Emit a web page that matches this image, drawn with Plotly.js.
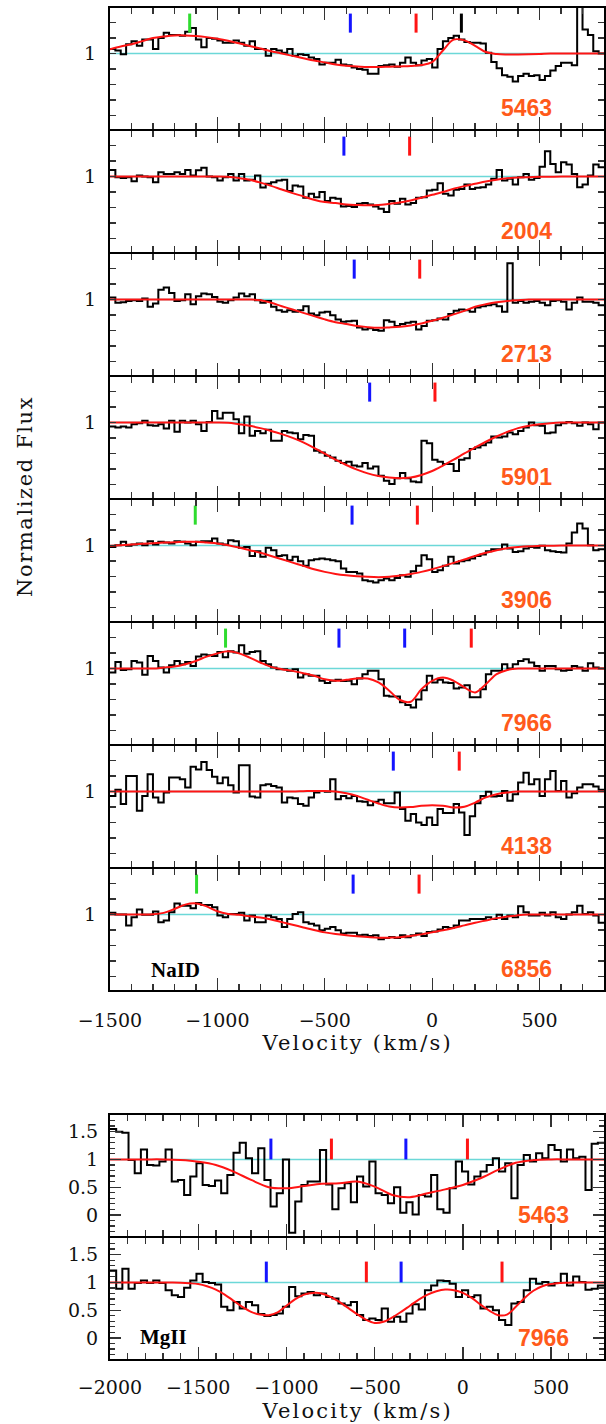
<!DOCTYPE html>
<html><head><meta charset="utf-8">
<script src="https://cdn.plot.ly/plotly-3.0.1.min.js"></script>
<style>
html,body{margin:0;padding:0;background:#fff}
#chart text[data-unformatted="Velocity (km/s)"]{letter-spacing:2.2px}
#chart text[data-unformatted="Normalized Flux"]{letter-spacing:1.6px}
#chart .xtick text{letter-spacing:1px}
</style>
</head><body><div id="chart" style="width:606px;height:1424px"></div>
<script>
// ---------------- DATA ----------------
// NaID spectra: flux in 25 km/s bins starting at -1500 km/s
const naVelStart = -1500, naBinWidth = 25;
const naNames = ['5463','2004','2713','5901','3906','7966','4138','6856'];

const flux5463 = [1.03,1.02,0.995,1.06,1.08,1.05,1.09,1.09,1.03,1.10, 1.135,1.12,1.12,1.115,1.14,1.165,1.09,1.04,1.10,1.095, 1.085,1.07,1.07,1.085,1.07,1.05,1.08,1.03,1.03,0.985, 1.03,1.02,1.005,1.03,0.985,0.995,0.99,0.975,0.965,0.93, 0.94,0.94,0.96,0.93,0.925,0.91,0.90,0.895,0.87,0.87, 0.92,0.925,0.93,0.915,0.94,0.975,0.94,0.925,0.955,0.965, 0.91,1.03,1.08,1.10,1.115,1.09,1.075,1.07,1.07,1.065, 1.005,0.945,0.905,0.86,0.85,0.82,0.855,0.87,0.855,0.86, 0.83,0.855,0.89,0.92,0.94,0.94,0.925,1.4,1.155,1.12, 1.015,1.0];
const flux2004 = [1.043,0.996,0.99,0.996,0.97,1.006,1.0,0.996,0.964,1.028, 1.017,1.017,1.028,1.017,1.043,1.006,1.04,1.056,1.0,0.996, 0.974,0.996,1.017,0.974,1.017,0.974,0.98,1.006,0.93,0.953, 0.964,0.974,0.98,0.906,0.942,0.936,0.863,0.889,0.867,0.9, 0.842,0.863,0.857,0.807,0.81,0.803,0.824,0.829,0.82,0.807, 0.792,0.771,0.842,0.824,0.857,0.82,0.829,0.863,0.867,0.91, 0.914,0.957,0.889,0.878,0.914,0.92,0.949,0.92,0.927,0.931, 0.949,0.985,1.043,0.974,0.985,0.949,0.996,1.017,0.98,0.99, 1.064,1.163,1.081,1.028,1.092,1.077,1.017,0.931,0.949,1.006, 1.077,1.06];
const flux2713 = [1.013,0.979,0.983,0.991,0.996,0.991,1.006,0.953,0.974,1.064, 1.077,1.043,0.991,0.996,1.034,0.97,1.021,1.039,1.034,1.017, 0.985,0.979,0.996,1.013,1.039,1.021,1.034,0.996,0.979,0.991, 0.953,0.931,0.921,0.931,0.921,0.931,0.957,0.91,0.899,0.916, 0.921,0.899,0.872,0.857,0.86,0.863,0.82,0.807,0.814,0.803, 0.799,0.867,0.857,0.829,0.842,0.85,0.857,0.807,0.829,0.863, 0.867,0.878,0.872,0.906,0.927,0.936,0.931,0.921,0.949,0.957, 0.964,0.97,0.957,0.921,1.235,0.979,0.991,0.979,0.985,0.991, 0.979,0.964,0.991,0.996,0.985,0.936,0.979,1.013,0.985,0.985, 0.979,0.964];
const flux5901 = [0.974,0.968,0.974,0.968,0.989,0.996,1.011,0.983,0.979,0.989, 0.961,1.011,0.94,1.011,1.0,1.011,0.989,0.946,1.004,1.075, 1.026,1.064,1.064,1.021,0.931,1.039,0.914,0.946,0.931,0.953, 0.882,0.882,0.946,0.936,0.931,0.893,0.919,0.914,0.818,0.807, 0.786,0.775,0.754,0.739,0.747,0.722,0.717,0.739,0.704,0.717, 0.657,0.625,0.604,0.64,0.674,0.64,0.619,0.615,0.882,0.867, 0.76,0.747,0.732,0.732,0.687,0.76,0.769,0.829,0.839,0.854, 0.872,0.91,0.904,0.91,0.936,0.925,0.946,0.968,1.0,0.983, 0.979,0.931,0.936,0.983,0.996,1.004,0.996,0.979,1.0,0.989, 0.957,1.0];
const flux3906 = [0.991,1.002,1.024,0.998,1.006,1.013,1.002,1.028,1.006,1.024, 1.019,1.013,1.028,1.024,1.013,1.002,1.024,1.028,1.028,1.045, 1.013,1.006,1.034,1.028,0.985,0.991,0.933,0.963,0.927,0.985, 0.97,0.933,0.938,0.905,0.927,0.899,0.869,0.905,0.912,0.916, 0.912,0.905,0.899,0.852,0.83,0.83,0.819,0.776,0.77,0.761, 0.776,0.787,0.776,0.791,0.808,0.798,0.834,0.869,0.938,0.912, 0.83,0.841,0.869,0.927,0.884,0.899,0.905,0.916,0.933,0.942, 0.963,0.976,0.976,1.006,0.981,0.959,0.963,0.981,0.991,0.985, 0.998,0.97,0.963,0.959,0.955,1.013,1.084,1.142,1.11,1.002, 0.97,0.976];
const flux7966 = [0.974,1.043,0.991,0.996,1.049,1.039,0.96,1.081,1.049,1.006, 0.974,1.021,1.049,1.028,1.043,1.017,1.077,1.09,1.086,1.081, 1.107,1.073,1.111,1.103,1.15,1.095,1.107,1.111,1.049,1.028, 1.006,0.996,0.996,0.985,0.996,0.942,0.964,0.953,0.953,0.921, 0.906,0.921,0.927,0.919,0.921,0.899,0.936,0.964,0.985,0.985, 0.931,0.824,0.82,0.82,0.782,0.764,0.749,0.8,0.86,0.953, 0.91,0.927,0.91,0.906,0.872,0.878,0.893,0.814,0.814,0.867, 0.964,0.985,0.985,1.028,1.0,1.028,1.049,1.06,1.039,1.017, 0.985,1.017,1.017,0.996,0.985,0.991,1.017,1.006,0.985,1.034, 1.006,1.0];
const flux4138 = [0.972,1.011,0.919,1.1,1.1,0.876,0.972,1.111,0.962,0.93, 0.994,1.09,1.09,1.079,1.026,1.16,1.143,1.19,1.139,1.096, 1.053,1.09,1.041,0.994,1.169,1.169,0.968,0.962,1.041,1.047, 1.036,1.026,0.93,0.962,0.957,0.919,0.908,0.962,0.994,1.004, 0.998,1.079,0.951,0.972,0.957,0.972,0.938,0.934,0.912,0.934, 0.947,0.925,0.925,0.994,0.887,0.812,0.855,0.801,0.784,0.833, 0.784,0.887,0.861,0.861,0.919,0.865,0.72,0.84,0.925,0.972, 0.998,0.968,0.972,1.004,0.94,0.983,1.058,1.122,1.047,1.079, 0.972,1.079,1.132,1.004,1.068,0.962,0.989,1.026,1.047,1.047, 1.032,1.011];
const flux6856 = [1.011,1.0,1.0,0.93,0.983,1.032,0.998,0.998,1.019,0.951, 0.962,1.015,1.072,1.057,1.057,1.04,1.074,1.062,1.062,1.047, 0.994,0.983,1.004,1.004,1.011,0.962,0.994,0.951,0.951,0.994, 0.983,0.972,0.919,0.972,1.004,1.015,0.951,0.94,0.93,0.898, 0.909,0.919,0.898,0.877,0.883,0.883,0.866,0.87,0.862,0.866, 0.84,0.849,0.855,0.849,0.866,0.853,0.866,0.877,0.862,0.887, 0.891,0.904,0.919,0.913,0.93,0.962,0.962,0.972,0.972,0.972, 0.983,0.972,0.998,0.972,0.994,0.983,1.053,1.015,0.994,0.994, 1.011,0.994,1.015,0.983,0.972,1.0,1.015,1.057,1.004,1.015, 0.994,0.947];

// NaID model fits: sampled every 50 km/s from -1500 to 800
const naModelStart = -1500, naModelStep = 50;
const model5463 = [1.028,1.045,1.06,1.08,1.10,1.11,1.117,1.117,1.113,1.106,1.096,1.083,1.066,1.049,1.032,1.015,1.0, 0.985,0.97,0.955,0.943,0.93,0.921,0.917,0.913,0.913,0.915,0.917,0.919,0.926,0.945, 1.02,1.09,1.085,1.05,1.01,0.997,0.994,0.994,0.995,0.997,1.0,1.0,1.0,1.0,1.0,1.0];
const model2004 = [1,1,1,1,1,1,1,1,1,1,1, 0.998,0.99,0.979,0.961,0.94,0.916,0.893,0.872,0.85,0.835,0.829,0.82,0.816,0.814,0.816,0.824,0.833,0.846,0.863,0.882, 0.9,0.921,0.938,0.953,0.968,0.98,0.989,0.994,0.996,0.998,0.999,1,1,1,1,1];
const model2713 = [1,1,1,1,1,1,1,1,1,1,1,1,1,1, 0.996,0.979,0.957,0.936,0.914,0.893,0.872,0.854,0.842,0.829,0.822,0.818,0.82,0.824,0.833,0.846,0.863,0.882,0.904,0.927,0.953,0.97,0.983,0.991,0.996, 1,1,1,1,1,1,1,1];
const model5901 = [1,1,1,1,1,1,1,1,1,1,1, 0.998,0.989,0.979,0.964,0.946,0.925,0.901,0.872,0.837,0.799,0.76,0.726,0.696,0.672,0.655,0.645,0.64,0.645,0.662,0.687, 0.722,0.76,0.801,0.839,0.876,0.91,0.94,0.964,0.979,0.989,0.996,1,1,1,1,1];
const model3906 = [0.998,1.002,1.006,1.011,1.015,1.019,1.021,1.024,1.024,1.019,1.013,1.002,0.987,0.97,0.953,0.933,0.912,0.89,0.869,0.847,0.83,0.817,0.808,0.802,0.798,0.796,0.798,0.806,0.817,0.83,0.847,0.867,0.888,0.91,0.933,0.953,0.97,0.983,0.991,0.996,0.998, 0.999,1,1,1,1,1];
const model7966 = [1,1,1,1,1,1.006,1.013,1.028,1.049,1.077,1.098,1.111,1.098,1.071,1.039,1.011,0.996,0.985,0.97,0.953,0.931,0.921,0.927,0.936,0.936,0.91,0.857,0.797,0.786,0.867,0.921,0.942,0.921,0.878,0.846,0.899,0.964,0.991, 1,1,1,1,1,1,1,1,1];
const model4138 = [1,1,1,1,1,1,1,1,1,1,1,1,1,1,1,1,1, 1.0,1.002,1.004,1.004,1.0,0.989,0.972,0.947,0.923,0.904,0.897,0.9,0.908,0.912,0.908,0.897,0.902,0.929,0.962,0.983,0.994, 1,1,1,1,1,1,1,1,1];
const model6856 = [1,1,1,1,1.002,1.011,1.036,1.064,1.072,1.053,1.021,1.004,0.998,0.989,0.981,0.968,0.951,0.934,0.917,0.9,0.885,0.874,0.866,0.86,0.855,0.851,0.851,0.853,0.862,0.872,0.885,0.898,0.913,0.93,0.947,0.962,0.977,0.987,0.996, 1,1,1,1,1,1,1,1];

// Velocity markers (km/s) and their kinds (g=green, b=blue, r=red, k=black)
const marks5463 = [-1129,-381,-75,136], kinds5463 = ['g','b','r','k'];
const marks2004 = [-411,-105], kinds2004 = ['b','r'];
const marks2713 = [-363,-58], kinds2713 = ['b','r'];
const marks5901 = [-291,13], kinds5901 = ['b','r'];
const marks3906 = [-1103,-373,-69], kinds3906 = ['g','b','r'];
const marks7966 = [-962,-434,-128,182], kinds7966 = ['g','b','b','r'];
const marks4138 = [-181,126], kinds4138 = ['b','r'];
const marks6856 = [-1097,-368,-61], kinds6856 = ['g','b','r'];

// MgII spectra: flux in 35 km/s bins starting at -2000 km/s
const mgVelStart = -2000, mgBinWidth = 35;
const mgNames = ['5463','7966'];
const mgFlux5463 = [1.55,1.5,1.48,0.99,0.75,1.18,0.9,0.89,0.96,1.18, 0.6,0.63,0.36,0.69,0.93,0.54,0.52,0.62,0.39,0.72, 1.12,1.3,1.02,0.75,1.2,0.63,0.15,0.39,1.0,-0.32, 0.24,0.54,0.6,0.6,1.17,0.55,0.1,0.48,0.57,0.23, 0.69,0.51,0.96,0.39,0.36,0.21,0.5,0.04,0.23,0.006, 0.36,0.33,0.72,0.1,0.04,0.48,0.96,0.78,0.55,0.69, 0.78,0.9,1.02,0.78,0.93,0.3,0.9,1.08,0.96,1.11, 1.02,1.26,1.17,0.96,1.18,1.02,1.05,0.45,1.28,1.3];
const mgFlux7966 = [1.214,0.887,1.244,0.887,0.988,1.036,0.988,1.036,0.988,0.857, 0.768,0.738,0.905,1.036,1.155,1.006,0.988,0.964,0.56,0.5, 0.649,0.53,0.649,0.589,0.429,0.393,0.411,0.44,0.56,0.917, 0.75,0.798,0.827,0.768,0.798,0.738,0.708,0.619,0.589,0.649, 0.411,0.321,0.351,0.321,0.53,0.292,0.381,0.292,0.44,0.607, 0.512,0.857,0.946,1.036,1.024,0.976,0.738,0.857,0.738,0.768, 0.53,0.56,0.5,0.321,0.232,0.619,0.649,0.857,1.065,0.976, 1.006,0.946,0.988,1.155,0.946,1.107,1.006,0.869,0.887,0.946];

// MgII model fits
const mgModel5463Start = -2000, mgModel5463Step = 100;
const mgModel5463 = [1,1,1,1,0.988,0.958,0.9,0.78,0.63,0.5,0.48,0.52,0.56,0.57,0.6,0.51,0.36,0.32,0.39,0.46,0.54,0.66,0.81,0.94,0.988,1,1,1,1];
const mgModel7966Start = -2000, mgModel7966Step = 50;
const mgModel7966 = [1,1,1,1,1,1,1, 0.998,0.994,0.985,0.97,0.93,0.87,0.78,0.67,0.56,0.47,0.42,0.41,0.46,0.58,0.70,0.78,0.81,0.80,0.74,0.65,0.54,0.43,0.33,0.27,0.29,0.37,0.47,0.58,0.69,0.78,0.84,0.87,0.86,0.81,0.72,0.60,0.49,0.41,0.42,0.56,0.72,0.85,0.93,0.97,0.99,0.995,1.0, 1,1,1];
const mgMarks5463 = [-1088,-745,-323,26], mgKinds5463 = ['b','r','b','r'];
const mgMarks7966 = [-1114,-547,-350,222], mgKinds7966 = ['b','r','b','r'];

// ---------------- STYLE / LAYOUT ----------------
const W = 606, H = 1424;
const X0 = 110, X1 = 604;
const LW = 2;                 // frame line width; panels are separated by LW so shared edges overlap
const naTop = 8, naH = 121, naPitch = 123;
const mgTop = 1115, mgH = 121, mgPitch = 123;
const kindColor = {g:'#2fdc2f', b:'#1414ff', r:'#ff1414', k:'#000000'};
const orange = '#ff5a1a';
const serif = 'DejaVu Serif';

const naPanels = [
  {name:'5463', flux:flux5463, model:model5463, marks:marks5463, kinds:kinds5463},
  {name:'2004', flux:flux2004, model:model2004, marks:marks2004, kinds:kinds2004},
  {name:'2713', flux:flux2713, model:model2713, marks:marks2713, kinds:kinds2713},
  {name:'5901', flux:flux5901, model:model5901, marks:marks5901, kinds:kinds5901},
  {name:'3906', flux:flux3906, model:model3906, marks:marks3906, kinds:kinds3906},
  {name:'7966', flux:flux7966, model:model7966, marks:marks7966, kinds:kinds7966},
  {name:'4138', flux:flux4138, model:model4138, marks:marks4138, kinds:kinds4138},
  {name:'6856', flux:flux6856, model:model6856, marks:marks6856, kinds:kinds6856}
];
const mgPanels = [
  {name:'5463', flux:mgFlux5463, model:mgModel5463, mStart:mgModel5463Start, mStep:mgModel5463Step, marks:mgMarks5463, kinds:mgKinds5463},
  {name:'7966', flux:mgFlux7966, model:mgModel7966, mStart:mgModel7966Start, mStep:mgModel7966Step, marks:mgMarks7966, kinds:mgKinds7966}
];

const traces = [], shapes = [], annotations = [];
const layout = {
  width: W, height: H, margin:{l:0,r:0,t:0,b:0},
  paper_bgcolor:'#fff', plot_bgcolor:'#fff', showlegend:false,
  font:{family:serif, size:19, color:'#000'}
};

function axId(i){ return i===1 ? '' : String(i); }

function stepXY(start, width, vals){
  const xs = [], ys = [];
  for (let i=0;i<vals.length;i++){ xs.push(start + i*width); ys.push(vals[i]); }
  xs.push(start + vals.length*width); ys.push(vals[vals.length-1]);
  return {xs, ys};
}
function gridX(start, step, n){ const a=[]; for(let i=0;i<n;i++) a.push(start+i*step); return a; }

function addPanel(idx, p, opts){
  const xa = 'x'+axId(idx), ya = 'y'+axId(idx);
  const top = opts.top, bot = opts.top + opts.h;
  const st = stepXY(opts.vStart, opts.bw, p.flux);
  traces.push({type:'scatter', mode:'lines', x:st.xs, y:st.ys, xaxis:xa, yaxis:ya,
    line:{color:'#000', width:2, shape:'hv'}, hoverinfo:'skip'});
  traces.push({type:'scatter', mode:'lines', x:gridX(opts.mStart, opts.mStep, p.model.length), y:p.model,
    xaxis:xa, yaxis:ya, line:{color:'#ff1414', width:2, shape:'spline', smoothing:1}, hoverinfo:'skip'});
  ['k','g','r','b'].forEach(kind=>{
    const xs=[], ys=[];
    p.marks.forEach((v,j)=>{ if(p.kinds[j]===kind){ xs.push(v,v,null); ys.push(opts.markLo, opts.markHi, null);} });
    if (xs.length) traces.push({type:'scatter', mode:'lines', x:xs, y:ys, xaxis:xa, yaxis:ya,
      line:{color:kindColor[kind], width:3}, hoverinfo:'skip'});
  });
  shapes.push({type:'line', xref:xa+' domain', yref:ya, x0:0, x1:1, y0:1, y1:1,
    line:{color:'#6cd8d8', width:1.5}, layer:'below'});
  const common = {showline:true, linecolor:'#000', linewidth:LW, mirror:'ticks', ticks:'inside',
    tickcolor:'#333', tickwidth:1.3, showgrid:false, zeroline:false, fixedrange:true};
  layout['xaxis'+axId(idx)] = Object.assign({}, common, {
    domain:[X0/W, X1/W], anchor:ya, range:opts.xRange, tickmode:'linear', tick0:0, dtick:500,
    ticklen:12, minor:{ticks:'inside', tick0:0, dtick:100, ticklen:6, tickcolor:'#333', tickwidth:1.3, showgrid:false},
    showticklabels: opts.labels, tickfont:{family:serif, size:19, color:'#111'}, ticklabelstandoff:opts.xStandoff
  });
  layout['yaxis'+axId(idx)] = Object.assign({}, common, {
    domain:[1-bot/H, 1-top/H], anchor:xa, range:opts.yRange,
    ticklen:opts.yTickLen, tickfont:{family:serif, size:19, color:'#111'}, ticklabelstandoff:opts.yStandoff
  }, opts.yTicks);
  annotations.push({xref:xa+' domain', yref:ya+' domain', x:opts.labX, y:opts.labY, text:p.name,
    showarrow:false, xanchor:'center', yanchor:'middle',
    font:{family:'Liberation Sans', size:23, color:orange, weight:'bold'}});
}

naPanels.forEach((p,k)=>{
  addPanel(k+1, p, {
    top: naTop + k*naPitch, h: naH, vStart: naVelStart, bw: naBinWidth,
    mStart: naModelStart, mStep: naModelStep,
    xRange:[-1500,800], yRange:[0.513,1.294], labels: k===naPanels.length-1, xStandoff:12,
    yTicks:{tickmode:'array', tickvals:[0.6,0.7,0.8,0.9,1.0,1.1,1.2], ticktext:['','','','','1','','']},
    yTickLen:6, yStandoff:8, markLo:1.135, markHi:1.258, labX:0.844, labY:0.177
  });
});
mgPanels.forEach((p,k)=>{
  addPanel(9+k, p, {
    top: mgTop + k*mgPitch, h: mgH, vStart: mgVelStart, bw: mgBinWidth,
    mStart: p.mStart, mStep: p.mStep,
    xRange:[-2000,800], yRange:[-0.38,1.8], labels: k===mgPanels.length-1, xStandoff:10,
    yTicks:{tickmode:'linear', tick0:0, dtick:0.5, minor:{ticks:'inside', tick0:0, dtick:0.1, ticklen:5, tickcolor:'#333', tickwidth:1.2, showgrid:false}},
    yTickLen:11, yStandoff:6, markLo:1.0, markHi:1.375, labX:0.877, labY:0.175
  });
});

annotations.push({xref:'x8 domain', yref:'y8 domain', x:0.132, y:0.163, text:'NaID', showarrow:false,
  xanchor:'center', yanchor:'middle', font:{family:'Liberation Serif', size:21, color:'#000', weight:'bold'}});
annotations.push({xref:'x10 domain', yref:'y10 domain', x:0.109, y:0.18, text:'MgII', showarrow:false,
  xanchor:'center', yanchor:'middle', font:{family:'Liberation Serif', size:21, color:'#000', weight:'bold'}});
annotations.push({xref:'paper', yref:'paper', x:357/W, y:1-1043/H, text:'Velocity (km/s)', showarrow:false,
  xanchor:'center', yanchor:'middle', font:{family:serif, size:21, color:'#111'}});
annotations.push({xref:'paper', yref:'paper', x:357/W, y:1-1411/H, text:'Velocity (km/s)', showarrow:false,
  xanchor:'center', yanchor:'middle', font:{family:serif, size:21, color:'#111'}});
annotations.push({xref:'paper', yref:'paper', x:25/W, y:1-497/H, text:'Normalized Flux', showarrow:false,
  textangle:-90, xanchor:'center', yanchor:'middle', font:{family:serif, size:21, color:'#111'}});

layout.shapes = shapes;
layout.annotations = annotations;
Plotly.newPlot('chart', traces, layout, {staticPlot:true, displayModeBar:false});
</script>
</body></html>
